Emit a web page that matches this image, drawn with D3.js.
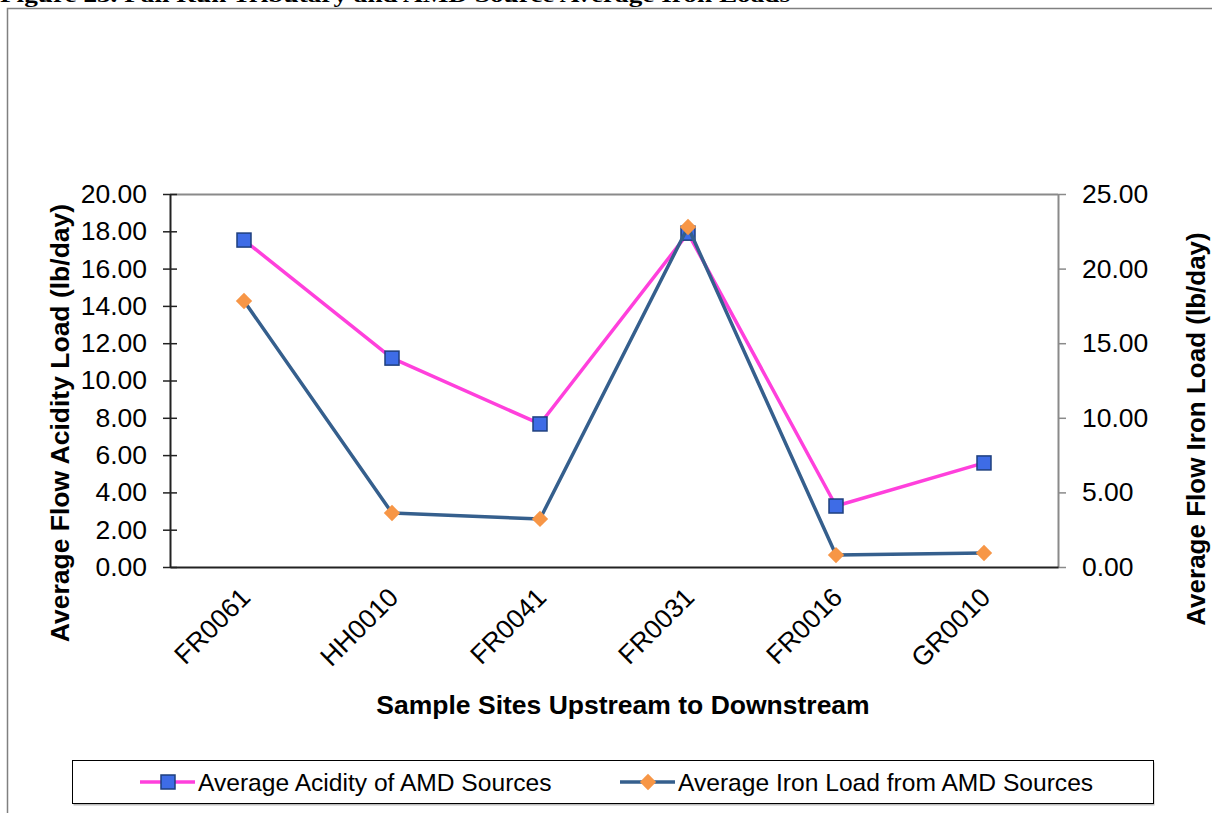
<!DOCTYPE html>
<html>
<head>
<meta charset="utf-8">
<script src="https://cdn.jsdelivr.net/npm/d3@7"></script>
<style>
  html, body { margin: 0; padding: 0; background: #fff; }
  svg { display: block; font-family: Arial, "Liberation Sans", sans-serif; }
</style>
</head>
<body>
<svg id="chart" width="1212" height="813"></svg>
<script>
// Sample sites, ordered upstream to downstream
const sites = ["FR0061", "HH0010", "FR0041", "FR0031", "FR0016", "GR0010"];
// Average acidity load of AMD sources (lb/day), left axis
const acidity = [17.53, 11.20, 7.67, 17.90, 3.27, 5.58];
// Average iron load from AMD sources (lb/day), right axis
const iron = [17.83, 3.62, 3.22, 22.79, 0.80, 0.94];
const leftTicks = [0, 2, 4, 6, 8, 10, 12, 14, 16, 18, 20];
const rightTicks = [0, 5, 10, 15, 20, 25];
const seriesNames = ["Average Acidity of AMD Sources", "Average Iron Load from AMD Sources"];

const svg = d3.select("#chart");
const plot = { left: 170, right: 1058, top: 194, bottom: 567 };

const pink = "#FF40DC", navy = "#355F8D", sqFill = "#3E6CE6", sqStroke = "#1E3F7E", orange = "#F79646";
const tickFont = 26.5;

// Figure caption, partly above the page edge
svg.append("text")
  .attr("x", 0).attr("y", 2)
  .attr("font-family", "'Liberation Serif', 'Times New Roman', serif")
  .attr("font-weight", "bold").attr("font-size", 22)
  .attr("textLength", 790).attr("lengthAdjust", "spacingAndGlyphs")
  .text("Figure 23. Fall Run Tributary and AMD Source Average Iron Loads");

// Chart frame
svg.append("path")
  .attr("d", "M7.5,813 V8.5 H1212")
  .attr("fill", "none").attr("stroke", "#808080").attr("stroke-width", 1.5);

const x = d3.scaleBand().domain(sites).range([plot.left, plot.right]);
const yL = d3.scaleLinear().domain([0, 20]).range([plot.bottom, plot.top]);
const yR = d3.scaleLinear().domain([0, 25]).range([plot.bottom, plot.top]);
const cx = d => x(d) + x.bandwidth() / 2;

// Plot area top border
svg.append("line")
  .attr("x1", plot.left).attr("x2", plot.right)
  .attr("y1", plot.top + 0.5).attr("y2", plot.top + 0.5)
  .attr("stroke", "#8a8a8a").attr("stroke-width", 2);

// Left axis
const gL = svg.append("g").attr("transform", `translate(${plot.left},0)`)
  .call(d3.axisLeft(yL).tickValues(leftTicks).tickFormat(d3.format(".2f")).tickSizeInner(7).tickSizeOuter(0).tickPadding(16));
gL.select(".domain").attr("stroke", "#222").attr("stroke-width", 2);
gL.selectAll(".tick line").attr("stroke", "#222").attr("stroke-width", 1.5).attr("x2", 7).attr("x1", -7);
gL.selectAll(".tick text").attr("font-size", tickFont).attr("fill", "#000")
  .attr("font-family", "Arial, 'Liberation Sans', sans-serif");

// Right axis
const gR = svg.append("g").attr("transform", `translate(${plot.right},0)`)
  .call(d3.axisRight(yR).tickValues(rightTicks).tickFormat(d3.format(".2f")).tickSizeInner(8).tickSizeOuter(0).tickPadding(16));
gR.select(".domain").attr("stroke", "#8a8a8a").attr("stroke-width", 2);
gR.selectAll(".tick line").attr("stroke", "#8a8a8a").attr("stroke-width", 1.5);
gR.selectAll(".tick text").attr("font-size", tickFont).attr("fill", "#000")
  .attr("font-family", "Arial, 'Liberation Sans', sans-serif");

// Bottom axis
const gB = svg.append("g").attr("transform", `translate(0,${plot.bottom})`)
  .call(d3.axisBottom(x).tickSize(0).tickPadding(0));
gB.select(".domain").attr("stroke", "#222").attr("stroke-width", 2);
gB.selectAll(".tick text")
  .attr("font-size", tickFont).attr("fill", "#000")
  .attr("font-family", "Arial, 'Liberation Sans', sans-serif")
  .attr("text-anchor", "end")
  .attr("dy", 0)
  .attr("transform", "translate(8,32) rotate(-45)");

// Axis titles
svg.append("text")
  .attr("transform", "translate(69,423) rotate(-90)")
  .attr("text-anchor", "middle").attr("font-weight", "bold").attr("font-size", 26.5)
  .text("Average Flow Acidity Load (lb/day)");
svg.append("text")
  .attr("transform", "translate(1205,429) rotate(-90)")
  .attr("text-anchor", "middle").attr("font-weight", "bold").attr("font-size", 26)
  .text("Average Flow Iron Load (lb/day)");
svg.append("text")
  .attr("x", 623).attr("y", 714)
  .attr("text-anchor", "middle").attr("font-weight", "bold").attr("font-size", 26.5)
  .text("Sample Sites Upstream to Downstream");

// Acidity series
const lineL = d3.line().x((d, i) => cx(sites[i])).y(d => yL(d));
const lineR = d3.line().x((d, i) => cx(sites[i])).y(d => yR(d));

svg.append("path").datum(acidity).attr("d", lineL)
  .attr("fill", "none").attr("stroke", pink).attr("stroke-width", 3.5).attr("stroke-linejoin", "round");
svg.append("g").selectAll("rect").data(acidity).join("rect")
  .attr("x", (d, i) => cx(sites[i]) - 7).attr("y", d => yL(d) - 7)
  .attr("width", 14).attr("height", 14)
  .attr("fill", sqFill).attr("stroke", sqStroke).attr("stroke-width", 1.5);

// Iron series
svg.append("path").datum(iron).attr("d", lineR)
  .attr("fill", "none").attr("stroke", navy).attr("stroke-width", 3.5).attr("stroke-linejoin", "round");
const diamond = d3.symbol().type(d3.symbolDiamond2).size(170);
svg.append("g").selectAll("path").data(iron).join("path")
  .attr("transform", (d, i) => `translate(${cx(sites[i])},${yR(d)})`)
  .attr("d", diamond).attr("fill", orange);

// Legend
const lg = svg.append("g");
lg.append("rect").attr("x", 73.5).attr("y", 762.5).attr("width", 1081).attr("height", 43)
  .attr("fill", "#bbb");
lg.append("rect").attr("x", 72.5).attr("y", 760.5).attr("width", 1081).attr("height", 43)
  .attr("fill", "#fff").attr("stroke", "#000").attr("stroke-width", 1);

const legendItems = [
  { name: seriesNames[0], x: 140, color: pink, marker: "square" },
  { name: seriesNames[1], x: 620, color: navy, marker: "diamond" }
];
legendItems.forEach(it => {
  const yy = 782;
  lg.append("line").attr("x1", it.x).attr("x2", it.x + 55).attr("y1", yy).attr("y2", yy)
    .attr("stroke", it.color).attr("stroke-width", 3.5);
  if (it.marker === "square") {
    lg.append("rect").attr("x", it.x + 21).attr("y", yy - 7).attr("width", 14).attr("height", 14)
      .attr("fill", sqFill).attr("stroke", sqStroke).attr("stroke-width", 1.5);
  } else {
    lg.append("path").attr("transform", `translate(${it.x + 28},${yy})`)
      .attr("d", diamond).attr("fill", orange);
  }
  lg.append("text").attr("x", it.x + 58).attr("y", yy + 9)
    .attr("font-size", 24.6).attr("fill", "#000").text(it.name);
});
</script>
</body>
</html>
